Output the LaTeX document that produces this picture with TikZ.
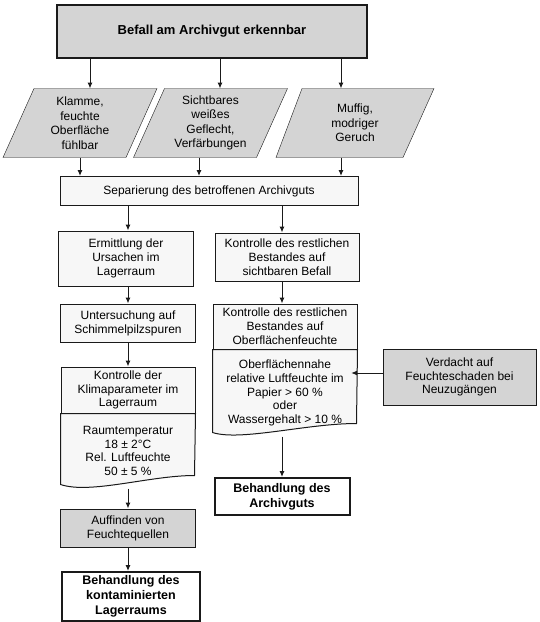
\documentclass[tikz,border=0pt]{standalone}
\usepackage{fontspec}
\setmainfont{Liberation Sans}
\usetikzlibrary{arrows.meta, positioning, backgrounds}

\definecolor{boxgray}{HTML}{D4D4D4}
\definecolor{boxlight}{HTML}{F7F7F7}
\definecolor{boxline}{HTML}{1A1A1A}

\begin{document}
\begin{tikzpicture}[x=1pt, y=-1pt, font=\fontsize{12}{13.8}\selectfont, >={Latex[length=6pt,width=5pt]}, line width=1pt, draw=boxline]
  \tikzstyle{stepbox} = [rectangle, draw=boxline, fill=boxlight, align=center, inner sep=2pt]
  \tikzstyle{graybox} = [stepbox, fill=boxgray]
  \tikzstyle{finalbox} = [stepbox, fill=white, line width=2pt, font=\fontsize{12.5}{15}\selectfont\bfseries, inner sep=0pt]
  \tikzstyle{databox} = [rectangle, align=center, inner sep=1pt, minimum width=153, minimum height=68, font=\fontsize{12}{14.5}\selectfont]
  \tikzstyle{datashape} = [draw=boxline, fill=boxgray]
  \tikzstyle{doctext} = [align=center, inner sep=3pt, anchor=north]
  \useasboundingbox (0,0) rectangle (540,622);

  % Befall und Anzeichen
  \node[graybox, line width=2pt, minimum width=310, minimum height=53, font=\fontsize{13}{15}\selectfont\bfseries] (befall) at (212,31.5) {Befall am Archivgut erkennbar};
  \node[databox] (klamm) at (80,123) {Klamme,\\feuchte\\Oberfläche\\fühlbar};
  \node[databox] (geflecht) at (210.5,123) {Sichtbares\\weißes\\Geflecht,\\Verfärbungen};
  \node[databox, minimum width=157] (geruch) at (355,123) {Muffig,\\modriger\\Geruch};
  \begin{scope}[on background layer]
    \draw[datashape] (klamm.south west) -- ([xshift=31]klamm.north west) -- (klamm.north east) -- ([xshift=-31]klamm.south east) -- cycle;
    \draw[datashape] (geflecht.south west) -- ([xshift=31]geflecht.north west) -- (geflecht.north east) -- ([xshift=-31]geflecht.south east) -- cycle;
    \draw[datashape] (geruch.south west) -- ([xshift=26]geruch.north west) -- (geruch.north east) -- ([xshift=-31]geruch.south east) -- cycle;
  \end{scope}
  \node[stepbox, minimum width=298, minimum height=29] (separ) at (209,191) {Separierung des betroffenen Archivguts};

  % linke Spalte: Lagerraum
  \node[stepbox, minimum width=135, minimum height=55] (ursache) at (126,258.5) {Ermittlung der\\Ursachen im\\Lagerraum};
  \node[stepbox, minimum width=135, minimum height=38] (spuren) at (128,323) {Untersuchung auf\\Schimmelpilzspuren};
  \node[stepbox, minimum width=134, minimum height=46] (klima) at (128,390) {Kontrolle der\\Klimaparameter im\\Lagerraum};
  \draw[fill=boxlight] (klima.south west) -- ++(0,71) .. controls +(30,10) and +(-45,0) .. ++(134,-9) -- (klima.south east) -- cycle;
  \node[doctext, below=0pt of klima, minimum height=74] (klimawerte) {Raumtemperatur\\18 ± 2°C\\Rel. Luftfeuchte\\50 ± 5 \%};
  \node[graybox, minimum width=135, minimum height=38] (quellen) at (128,528) {Auffinden von\\Feuchtequellen};
  \node[finalbox, minimum width=138, minimum height=49] (lagerbeh) at (131,596.5) {Behandlung des\\kontaminierten\\Lagerraums};

  % rechte Spalte: Bestand
  \node[stepbox, minimum width=144, minimum height=48] (sichtbar) at (287,257) {Kontrolle des restlichen\\Bestandes auf\\sichtbaren Befall};
  \node[stepbox, minimum width=144, minimum height=45] (feuchte) at (285,326.5) {Kontrolle des restlichen\\Bestandes auf\\Oberflächenfeuchte};
  \draw[fill=boxlight] (feuchte.south west) -- ++(0,83) .. controls +(28,9) and +(-50,0) .. ++(144,-9) -- (feuchte.south east) -- cycle;
  \node[doctext, below=0pt of feuchte, minimum height=86] (feuchtewerte) {Oberflächennahe\\relative Luftfeuchte im\\Papier > 60 \%\\oder\\Wassergehalt > 10 \%};
  \node[finalbox, minimum width=135, minimum height=37] (archivbeh) at (282,496.5) {Behandlung des\\Archivguts};
  \node[graybox, minimum width=153, minimum height=56] (verdacht) at (459.5,377) {Verdacht auf\\Feuchteschaden bei\\Neuzugängen};

  \draw[->] ([xshift=10]befall.south -| klamm.north) -- ([xshift=10]klamm.north);
  \draw[->] ([xshift=9.5]befall.south -| geflecht.north) -- ([xshift=9.5]geflecht.north);
  \draw[->] ([xshift=-14]befall.south -| geruch.north) -- ([xshift=-14]geruch.north);
  \draw[->] (klamm.south) -- (klamm.south |- separ.north);
  \draw[->] ([xshift=-11.5]geflecht.south) -- ([xshift=-11.5]geflecht.south |- separ.north);
  \draw[->] ([xshift=-14]geruch.south) -- ([xshift=-14]geruch.south |- separ.north);
  \draw[->] (separ.south -| spuren.north) -- (ursache.north -| spuren.north);
  \draw[->] (ursache.south -| spuren.north) -- (spuren.north);
  \draw[->] (spuren) -- (klima);
  \draw[->] (klimawerte.south) -- (quellen.north);
  \draw[->] (quellen.south) -- (quellen.south |- lagerbeh.north);
  \draw[->] (separ.south -| archivbeh.north) -- (sichtbar.north -| archivbeh.north);
  \draw[->] (sichtbar.south -| archivbeh.north) -- (feuchte.north -| archivbeh.north);
  \draw[->] (feuchtewerte.south -| archivbeh.north) -- (archivbeh.north);
  \draw[->, shorten >=4pt] ([yshift=4pt]verdacht.west) -- ([yshift=4pt]verdacht.west -| feuchtewerte.east);
\end{tikzpicture}
\end{document}
